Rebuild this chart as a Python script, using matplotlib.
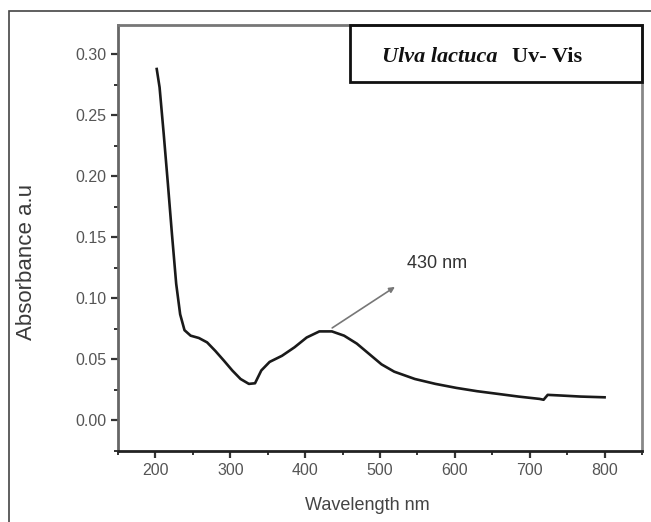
import numpy as np
import matplotlib
matplotlib.use('Agg')
import matplotlib.pyplot as plt
from matplotlib.patches import Rectangle
from matplotlib.ticker import MultipleLocator

# UV-Vis spectrum
wavelength = [201.7, 205.5, 211, 216.6, 222, 227.7, 233, 238.8, 247, 258, 269, 280,
              291.5, 302.6, 313.7, 324.8, 333, 341.4, 352.5, 369, 385.8, 402, 419,
              435.7, 452, 469, 485.5, 502, 519, 546.6, 574, 602, 629.7, 657.5, 685,
              713, 718.5, 724, 740.6, 768, 800]
absorbance = [0.288, 0.273, 0.235, 0.194, 0.153, 0.112, 0.087, 0.074, 0.0695, 0.0676,
              0.064, 0.057, 0.049, 0.041, 0.034, 0.030, 0.0305, 0.041, 0.048, 0.053,
              0.060, 0.068, 0.073, 0.073, 0.0695, 0.063, 0.0545, 0.046, 0.040, 0.034,
              0.030, 0.0267, 0.024, 0.0218, 0.0196, 0.0177, 0.017, 0.021, 0.0205,
              0.0196, 0.019]
peak_label = '430 nm'
peak_xy = (433, 0.0746)
label_xy = (523, 0.1107)

plt.rcParams['font.family'] = ['Liberation Sans', 'DejaVu Sans']

fig = plt.figure(figsize=(6.51, 5.22), dpi=100)
ax = fig.add_axes([0.1813, 0.136, 0.8049, 0.816])

# outer frame round the whole figure
fig.patches.append(Rectangle((9 / 651, -0.05), 1.0, 1 - 11 / 522 + 0.05,
                             transform=fig.transFigure, fill=False,
                             edgecolor='#444444', linewidth=1.2))

ax.plot(wavelength, absorbance, color='#1a1a1a', linewidth=1.9)

ax.set_xlim(150, 850)
ax.set_ylim(-0.025, 0.324)
ax.xaxis.set_major_locator(MultipleLocator(100))
ax.xaxis.set_minor_locator(MultipleLocator(50))
ax.yaxis.set_major_locator(MultipleLocator(0.05))
ax.yaxis.set_minor_locator(MultipleLocator(0.025))
ax.set_xticks(np.arange(200, 801, 100))
ax.set_yticks(np.arange(0, 0.31, 0.05))
ax.set_yticklabels(['%.2f' % v for v in np.arange(0, 0.31, 0.05)])

ax.tick_params(which='major', direction='out', length=5, width=1.6,
               colors='#333333', labelcolor='#555555', labelsize=11.5)
ax.tick_params(which='minor', direction='out', length=3, width=1.4, colors='#333333')

ax.spines['bottom'].set_color('#222222')
ax.spines['left'].set_color('#666666')
ax.spines['top'].set_color('#777777')
ax.spines['right'].set_color('#888888')
for s in ax.spines.values():
    s.set_linewidth(2.0)

ax.set_xlabel('Wavelength nm', fontsize=13, color='#444444')
ax.xaxis.set_label_coords(0.475, -0.108)
ax.set_ylabel('Absorbance a.u', fontsize=16, color='#3a3a3a')
ax.yaxis.set_label_coords(-0.155, 0.444)

# arrow pointing at the peak
ax.annotate('', xy=label_xy, xytext=peak_xy,
            arrowprops=dict(arrowstyle='-|>', color='#777777', lw=1.2,
                            mutation_scale=8))
ax.text(536, 0.1287, peak_label, fontsize=13, color='#333333', va='center')

# title box in the top right corner
ax.add_patch(Rectangle((0.443, 0.866), 0.557, 0.134, transform=ax.transAxes,
                       fill=False, edgecolor='#111111', linewidth=2.0, zorder=5,
                       clip_on=False))
ax.text(0.504, 0.925, 'Ulva lactuca', transform=ax.transAxes, fontsize=16,
        family='Liberation Serif', style='italic', weight='bold',
        ha='left', va='center', color='#111111')
ax.text(0.752, 0.925, 'Uv- Vis', transform=ax.transAxes, fontsize=16,
        family='Liberation Serif', weight='bold', ha='left', va='center',
        color='#111111')

plt.savefig('out.png', dpi=100)
plt.close()
